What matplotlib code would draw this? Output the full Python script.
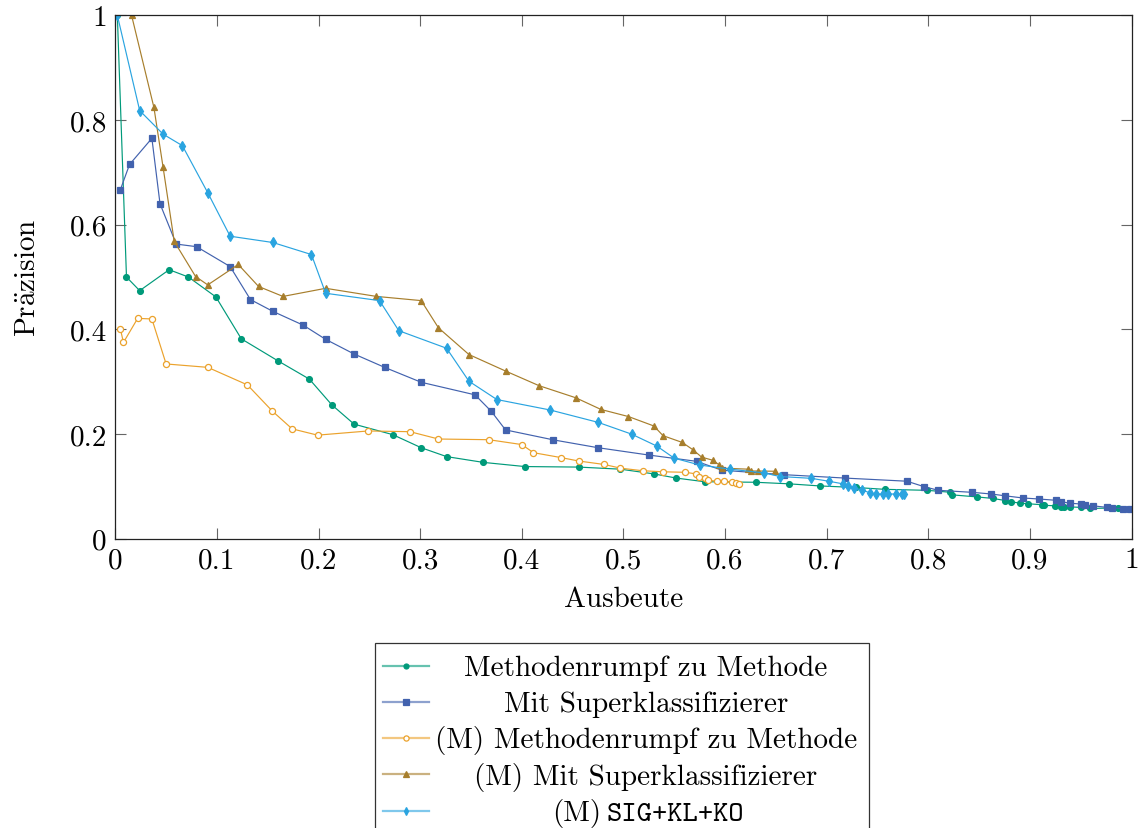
import numpy as np
import matplotlib
matplotlib.use('Agg')
import matplotlib.pyplot as plt
from matplotlib.lines import Line2D
from matplotlib.patches import Rectangle

plt.rcParams['font.family'] = ['cmr10', 'DejaVu Serif']
plt.rcParams['mathtext.fontset'] = 'cm'
plt.rcParams['axes.formatter.use_mathtext'] = True

## Data (Ausbeute = recall, Praezision = precision)

mrm_x = [0.002, 0.011, 0.024, 0.053, 0.072, 0.099, 0.124, 0.160, 0.191, 0.213, 0.235,
         0.273, 0.301, 0.326, 0.362, 0.403, 0.456, 0.497, 0.530, 0.552, 0.580, 0.630,
         0.663, 0.693, 0.729, 0.757, 0.799, 0.821, 0.823, 0.848, 0.864, 0.876, 0.881,
         0.890, 0.898, 0.912, 0.914, 0.925, 0.931, 0.934, 0.939, 0.950, 0.959, 0.987, 0.998]
mrm_y = [1.0, 0.500, 0.474, 0.514, 0.500, 0.462, 0.382, 0.340, 0.305, 0.256, 0.219,
         0.199, 0.174, 0.157, 0.146, 0.138, 0.137, 0.133, 0.124, 0.116, 0.109, 0.108,
         0.105, 0.101, 0.098, 0.0945, 0.0926, 0.089, 0.084, 0.080, 0.077, 0.073, 0.071,
         0.068, 0.067, 0.065, 0.064, 0.063, 0.061, 0.060, 0.061, 0.060, 0.058, 0.059, 0.057]

sup_x = [0.005, 0.014, 0.036, 0.044, 0.060, 0.080, 0.113, 0.133, 0.155, 0.185, 0.207,
         0.235, 0.265, 0.301, 0.354, 0.370, 0.384, 0.431, 0.475, 0.525, 0.572, 0.597,
         0.658, 0.718, 0.779, 0.796, 0.810, 0.843, 0.862, 0.876, 0.893, 0.909, 0.926,
         0.931, 0.939, 0.950, 0.954, 0.962, 0.976, 0.981, 0.992, 0.999]
sup_y = [0.667, 0.715, 0.765, 0.640, 0.563, 0.558, 0.520, 0.457, 0.4345, 0.408, 0.381,
         0.353, 0.3275, 0.299, 0.275, 0.2435, 0.208, 0.189, 0.174, 0.160, 0.148, 0.131,
         0.1225, 0.116, 0.110, 0.0995, 0.0926, 0.0888, 0.0856, 0.082, 0.078, 0.076, 0.0735,
         0.071, 0.068, 0.0665, 0.065, 0.063, 0.060, 0.059, 0.0575, 0.057]

m_mrm_x = [0.005, 0.008, 0.022, 0.036, 0.050, 0.091, 0.130, 0.1545, 0.174, 0.199, 0.249,
           0.290, 0.318, 0.3675, 0.400, 0.4115, 0.439, 0.456, 0.481, 0.497, 0.519, 0.539,
           0.561, 0.5715, 0.5745, 0.580, 0.583, 0.592, 0.599, 0.607, 0.611, 0.614]
m_mrm_y = [0.401, 0.375, 0.421, 0.420, 0.334, 0.3275, 0.294, 0.244, 0.210, 0.198, 0.206,
           0.2046, 0.1906, 0.1893, 0.180, 0.1645, 0.155, 0.1486, 0.142, 0.135, 0.130, 0.128,
           0.127, 0.124, 0.118, 0.116, 0.112, 0.110, 0.110, 0.1085, 0.106, 0.105]

m_sup_x = [0.016, 0.038, 0.047, 0.058, 0.079, 0.091, 0.121, 0.141, 0.165, 0.207, 0.257,
           0.301, 0.318, 0.348, 0.384, 0.417, 0.453, 0.478, 0.505, 0.530, 0.539, 0.558,
           0.5685, 0.577, 0.588, 0.594, 0.597, 0.623, 0.626, 0.6325, 0.649]
m_sup_y = [1.0, 0.824, 0.710, 0.568, 0.501, 0.485, 0.524, 0.482, 0.463, 0.4785, 0.463,
           0.455, 0.403, 0.352, 0.3205, 0.2925, 0.2695, 0.247, 0.2335, 0.2155, 0.197, 0.184,
           0.170, 0.156, 0.150, 0.1416, 0.135, 0.133, 0.1295, 0.1295, 0.129]

m_sig_x = [0.002, 0.024, 0.047, 0.066, 0.091, 0.113, 0.155, 0.193, 0.207, 0.260, 0.279,
           0.326, 0.348, 0.3755, 0.428, 0.475, 0.508, 0.533, 0.550, 0.575, 0.605, 0.638,
           0.654, 0.685, 0.702, 0.716, 0.721, 0.727, 0.735, 0.743, 0.749, 0.755, 0.760,
           0.768, 0.774, 0.776]
m_sig_y = [1.0, 0.818, 0.773, 0.751, 0.661, 0.578, 0.566, 0.543, 0.469, 0.455, 0.3975,
           0.364, 0.301, 0.266, 0.246, 0.2225, 0.200, 0.177, 0.154, 0.141, 0.133, 0.126,
           0.119, 0.1155, 0.110, 0.105, 0.1015, 0.097, 0.093, 0.0875, 0.0856, 0.0856, 0.0856,
           0.0856, 0.0856, 0.0856]

# label text, the last one has a typewriter part
labels = ['Methodenrumpf zu Methode',
          'Mit Superklassifizierer',
          '(M) Methodenrumpf zu Methode',
          '(M) Mit Superklassifizierer',
          ('(M)', 'SIG+KL+KO')]

x_ticks = [0, 0.1, 0.2, 0.3, 0.4, 0.5, 0.6, 0.7, 0.8, 0.9, 1]
y_ticks = [0, 0.2, 0.4, 0.6, 0.8, 1]

# colours / markers per series
colors = ['#009A7A', '#4262AE', '#EBA22C', '#A77E2C', '#2AA4E0']
markers = ['o', 's', 'o', '^', 'd']
faces = ['#009A7A', '#4262AE', 'white', '#A77E2C', '#2AA4E0']
msizes = [4.2, 4.3, 4.4, 4.5, 4.6]
fs = 21

series = [(mrm_x, mrm_y), (sup_x, sup_y), (m_mrm_x, m_mrm_y), (m_sup_x, m_sup_y), (m_sig_x, m_sig_y)]

fig = plt.figure(figsize=(11.39, 8.29), dpi=100)
ax = fig.add_axes([115.3 / 1139, 1 - 539.8 / 829, 1016.2 / 1139, 523.5 / 829])

for (xs, ys), c, m, fc, ms in zip(series, colors, markers, faces, msizes):
    ax.plot(xs, ys, color=c, lw=0.85, marker=m, markersize=ms,
            markerfacecolor=fc, markeredgecolor=c, markeredgewidth=0.9)

ax.set_xlim(0, 1)
ax.set_ylim(0, 1)
ax.set_xticks(x_ticks)
ax.set_yticks(y_ticks)
ax.set_xticklabels(['%g' % v for v in x_ticks])
ax.set_yticklabels(['%g' % v for v in y_ticks])
ax.tick_params(direction='in', length=8, width=0.8, color='#666666',
               top=True, right=True, labelsize=fs, pad=6)
for sp in ax.spines.values():
    sp.set_linewidth(0.9)
    sp.set_color('#222222')

ax.set_xlabel('Ausbeute', fontsize=fs, labelpad=9)
ax.set_ylabel(r'Pr$\ddot{\mathrm{a}}$zision', fontsize=fs, labelpad=20)

# legend box, drawn by hand so the labels can be centred like in the original
lax = fig.add_axes([0, 0, 1, 1])
lax.set_xlim(0, 1139)
lax.set_ylim(829, 0)
lax.axis('off')
lax.add_patch(Rectangle((375, 644), 494, 230, facecolor='white',
                        edgecolor='#333333', lw=0.9))
for i, (lab, c, m, fc, ms) in enumerate(zip(labels, colors, markers, faces, msizes)):
    yb = 676 + i * 36.2
    yc = yb - 9.3
    lax.add_line(Line2D([383, 429], [yc, yc], color=c, lw=1.6, alpha=0.6))
    lax.add_line(Line2D([406], [yc], color=c, marker=m, markersize=ms * 0.85,
                        markerfacecolor=fc, markeredgecolor=c, markeredgewidth=0.9))
    if isinstance(lab, tuple):
        lax.text(601, yb, lab[0], fontsize=fs, ha='right', va='baseline')
        lax.text(607, yb, lab[1], fontsize=fs, ha='left', va='baseline', family='cmtt10')
    else:
        lax.text(646, yb, lab, fontsize=fs, ha='center', va='baseline')

fig.savefig('out.png', dpi=100)
